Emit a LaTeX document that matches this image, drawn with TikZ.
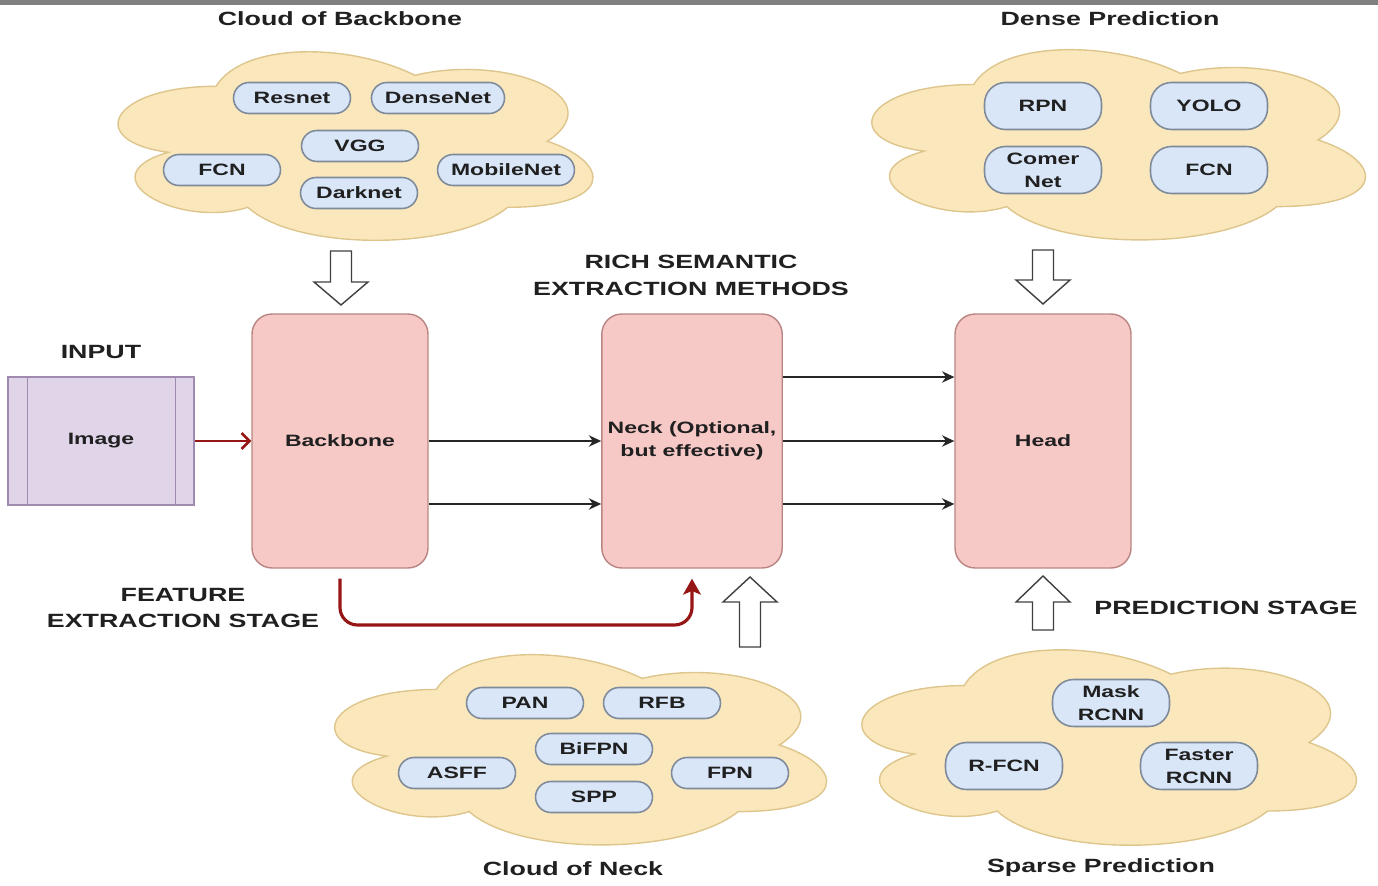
\documentclass[tikz,border=0pt]{standalone}
\usepackage{fontspec}
\setmainfont{Liberation Sans}[FakeStretch=1.4]
\usepackage{tikz}
\usetikzlibrary{arrows.meta, positioning}
\definecolor{cloudfill}{HTML}{FAE8BC}
\definecolor{cloudline}{HTML}{DDC58C}
\definecolor{pillfill}{HTML}{D9E6F7}
\definecolor{pillline}{HTML}{7F8B9B}
\definecolor{boxfill}{HTML}{F6C9C7}
\definecolor{boxline}{HTML}{B98481}
\definecolor{imgfill}{HTML}{E0D4E8}
\definecolor{imgline}{HTML}{A08AB0}
\definecolor{txt}{HTML}{202020}
\definecolor{darkred}{HTML}{961616}
\tikzstyle{pill}=[draw=pillline, fill=pillfill, line width=0.9pt, rounded corners=0.31cm, minimum width=2.34cm, minimum height=0.62cm, inner xsep=0.27cm, inner ysep=1pt, align=center, text=txt, font=\fontsize{9.35}{13}\selectfont\bfseries]
\tikzstyle{tallpill}=[pill, minimum height=0.94cm, rounded corners=0.42cm]
\tikzstyle{stage}=[draw=boxline, fill=boxfill, line width=0.8pt, rounded corners=0.4cm, minimum width=3.52cm, minimum height=5.08cm, align=center, text=txt, font=\fontsize{9.35}{13}\selectfont\bfseries]
\tikzstyle{ttl}=[align=center, text=txt, inner sep=1pt, font=\fontsize{10.9}{15.3}\selectfont\bfseries]
\tikzstyle{cloudbg}=[draw=cloudline, fill=cloudfill, line width=0.8pt]
\tikzstyle{hollow}=[draw=black!75, fill=white, line width=0.8pt, line join=miter]
\tikzstyle{blk}=[line width=0.85pt, black!85, -{Stealth[length=7pt, width=6.5pt]}]
\tikzstyle{redline}=[line width=1.5pt, darkred, -{Straight Barb[length=4.5pt, width=9pt]}]
\tikzstyle{redthick}=[line width=1.8pt, darkred, -{Stealth[length=9pt, width=10pt, inset=2pt]}]
% cloud outline, #1 #2 top left corner, #3 width, #4 height
\newcommand{\drawcloud}[4]{%
\begin{scope}[shift={(#1,#2)}, xscale=#3, yscale=#4]
\draw[cloudbg] (.25,.25) .. controls (.05,.25) and (0,.5) .. (.16,.55)
  .. controls (0,.66) and (.18,.9) .. (.31,.8)
  .. controls (.4,1) and (.7,1) .. (.8,.8)
  .. controls (1,.8) and (1,.6) .. (.875,.5)
  .. controls (1,.3) and (.8,.1) .. (.625,.2)
  .. controls (.5,.05) and (.3,.05) .. (.25,.25) -- cycle;
\end{scope}}
% hollow block arrow, #1 centre x, #2 tail y, #3 head base y, #4 tip y
\newcommand{\blockarrow}[4]{%
\draw[hollow] (#1-10.5,#2) -- (#1-10.5,#3) -- (#1-27,#3) -- (#1,#4) -- (#1+27,#3) -- (#1+10.5,#3) -- (#1+10.5,#2) -- cycle;}

\begin{document}
\begin{tikzpicture}[x=0.02cm, y=-0.02cm]
\useasboundingbox (0,0) rectangle (1378,885);
\fill[black!50] (0,0) rectangle (1378,5);
% the four clouds
\drawcloud{83.6}{31.3}{530}{220}
\drawcloud{836}{29}{551}{222}
\drawcloud{299}{634}{549}{222}
\drawcloud{826}{628.6}{552}{228}
% the cloud titles
\node[ttl] (tBack) at (340,19) {Cloud of Backbone};
\node[ttl] (tDense) at (1110,19) {Dense Prediction};
\node[ttl] (tNeck) at (573,869) {Cloud of Neck};
\node[ttl] (tSparse) at (1101,868) {Sparse Prediction};
% backbone cloud
\node[pill] (resnet) at (292,98) {Resnet};
\node[pill] (densenet) at (438,98) {DenseNet};
\node[pill] (vgg) at (360,146) {VGG};
\node[pill] (fcnA) at (222,170) {FCN};
\node[pill] (mobilenet) at (506,170) {MobileNet};
\node[pill] (darknet) at (359,193) {Darknet};
% dense prediction cloud
\node[tallpill] (rpn) at (1043,106) {RPN};
\node[tallpill] (yolo) at (1209,106) {YOLO};
\node[tallpill] (comer) at (1043,170) {Comer\\Net};
\node[tallpill] (fcnB) at (1209,170) {FCN};
% neck cloud
\node[pill] (pan) at (525,703) {PAN};
\node[pill] (rfb) at (662,703) {RFB};
\node[pill] (bifpn) at (594,749) {BiFPN};
\node[pill] (asff) at (457,773) {ASFF};
\node[pill] (fpn) at (730,773) {FPN};
\node[pill] (spp) at (594,797) {SPP};
% sparse prediction cloud
\node[tallpill] (mask) at (1111,703) {Mask\\RCNN};
\node[tallpill] (rfcn) at (1004,766) {R-FCN};
\node[tallpill] (faster) at (1199,766) {Faster\\RCNN};
% the main stages
\node[draw=imgline, fill=imgfill, line width=0.8pt, minimum width=3.72cm, minimum height=2.56cm, text=txt, font=\fontsize{9.35}{13}\selectfont\bfseries] (img) at (101,441) {Image};
\draw[imgline, line width=0.8pt] ([xshift=0.4cm]img.north west) -- ([xshift=0.4cm]img.south west);
\draw[imgline, line width=0.8pt] ([xshift=-0.38cm]img.north east) -- ([xshift=-0.38cm]img.south east);
\node[ttl] (input) at (101,352) {INPUT};
\node[stage] (bb) at (340,441) {Backbone};
\node[stage] (neck) at (692,441) {Neck (Optional,\\but effective)};
\node[stage] (head) at (1043,441) {Head};
% stage labels
\node[ttl] (rich) at (691,275) {RICH SEMANTIC\\EXTRACTION METHODS};
\node[ttl] (feat) at (183,608) {FEATURE\\EXTRACTION STAGE};
\node[ttl] (pred) at (1226,608) {PREDICTION STAGE};
% the connectors
\draw[redline] (img) -- (bb);
\draw[blk] (bb) -- (neck);
\draw[blk] ([yshift=-1.26cm]bb.east) -- ([yshift=-1.26cm]neck.west);
\draw[blk] ([yshift=1.28cm]neck.east) -- ([yshift=1.28cm]head.west);
\draw[blk] (neck) -- (head);
\draw[blk] ([yshift=-1.26cm]neck.east) -- ([yshift=-1.26cm]head.west);
\coordinate (fe) at (520,625);
\draw[redthick, rounded corners=0.35cm, shorten <=0.2cm, shorten >=0.2cm] (bb.south) |- (fe) -| (neck.south);
% the hollow arrows
\blockarrow{341}{251}{282}{305}
\blockarrow{1043}{250}{280}{304}
\blockarrow{750}{647}{602}{577}
\blockarrow{1043}{630}{602}{576}
\end{tikzpicture}
\end{document}
